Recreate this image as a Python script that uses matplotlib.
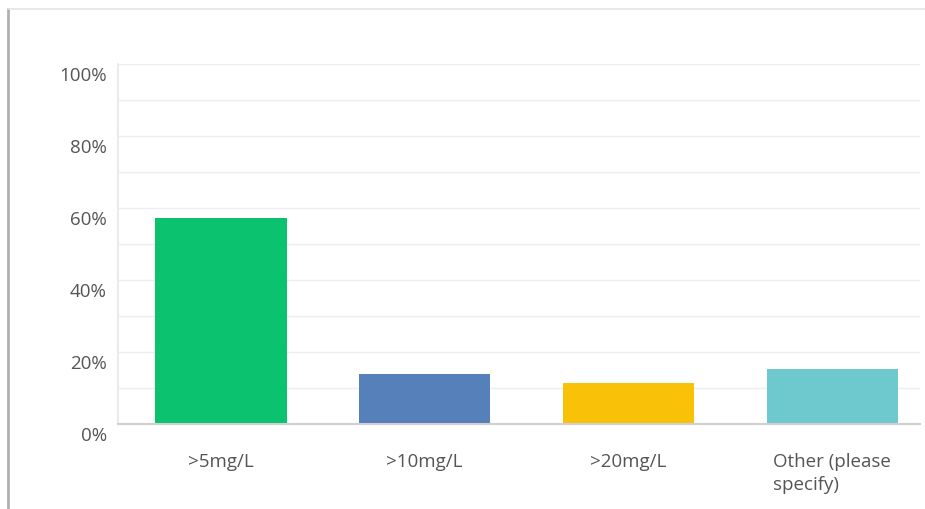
import numpy as np
import matplotlib
matplotlib.use("Agg")
import matplotlib.pyplot as plt
import matplotlib.transforms as mtransforms
from matplotlib.lines import Line2D

categories = [">5mg/L", ">10mg/L", ">20mg/L", "Other (please\nspecify)"]
values = [57.2, 14.0, 11.5, 15.3]
colors = ["#0bc26f", "#5580b9", "#f9c107", "#6dc9cd"]
y_ticks = [0, 20, 40, 60, 80, 100]
y_grid = [10, 30, 50, 70, 90]

plt.rcParams['font.family'] = ['Open Sans', 'DejaVu Sans']

W, H = 925, 510
fig = plt.figure(figsize=(W / 100, H / 100), dpi=100)
fig.patch.set_facecolor("white")

# card border (screenshot frame)
fig.add_artist(Line2D([8 / W, 8 / W], [0, 1 - 10 / H], color="#b0b0b0", lw=2.0))
fig.add_artist(Line2D([8 / W, 1], [1 - 10 / H, 1 - 10 / H], color="#e4e4e4", lw=1.2))

ax = fig.add_axes([118 / W, 1 - 425 / H, (920 - 118) / W, (425 - 65) / H])
x = np.arange(len(categories))
ax.bar(x, values, width=0.645, color=colors, zorder=3)

ax.set_ylim(0, 100)
ax.set_xlim(-0.505, 3.43)

for g in y_grid + y_ticks[1:]:
    ax.axhline(g, color="#eeeeee", lw=1.0, zorder=1)

# y labels sit a little below their gridlines, like the original
ax.set_yticks(y_ticks)
ax.set_yticklabels([])
ax.tick_params(axis="y", length=0)
offset = mtransforms.ScaledTranslation(-11 / 100, -11 / 100, fig.dpi_scale_trans)
for t in y_ticks:
    ax.text(0, t, f"{t}%", transform=ax.get_yaxis_transform() + offset,
            ha="right", va="center", fontsize=13.5, color="#555555")

ax.set_xticks(x)
ax.set_xticklabels(categories, multialignment="left", linespacing=1.4)
ax.tick_params(axis="x", length=0, pad=20, labelsize=13.5, labelcolor="#555555")
for lab in ax.get_xticklabels():
    lab.set_verticalalignment("top")

for side in ["top", "right"]:
    ax.spines[side].set_visible(False)
ax.spines["left"].set_color("#e6e6e6")
ax.spines["left"].set_linewidth(1.2)
ax.spines["bottom"].set_color("#cfcfcf")
ax.spines["bottom"].set_linewidth(1.5)
ax.spines["bottom"].set_zorder(4)

fig.savefig("out.png", dpi=100, facecolor="white")
